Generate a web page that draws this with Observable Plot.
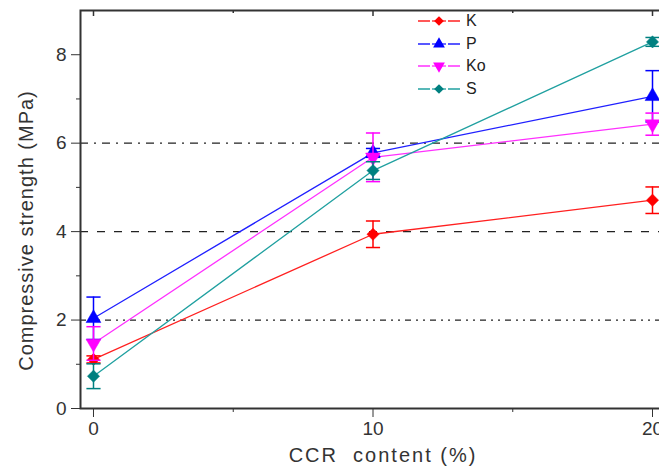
<!DOCTYPE html>
<html><head><meta charset="utf-8">
<script src="https://cdn.jsdelivr.net/npm/d3@7"></script>
<script src="https://cdn.jsdelivr.net/npm/@observablehq/plot@0.6"></script>
<style>
html,body{margin:0;padding:0;background:#fff;overflow:hidden;}
#wrap{position:relative;width:659px;height:468px;overflow:hidden;font-family:Arial,"Liberation Sans",sans-serif;}
#chart svg{max-width:none !important;}
#chart svg text{font-size:19px;}
#chart svg text.title{font-size:20px;}
#legend{position:absolute;left:418px;top:10px;font-size:16px;color:#222;}
#legend .row{display:flex;align-items:center;height:22.5px;}
#legend svg{margin-right:6px;}
</style></head>
<body><div id="wrap"><div id="chart"></div><div id="legend"></div></div>
<script>
const contents = [0, 10, 20];
const seriesNames = ["K", "P", "Ko", "S"];
const colors = ["#ff0000", "#0000ff", "#ff00ff", "#008080"];
const lineColors = ["#ff2020", "#2020ff", "#ff30ff", "#20a0a0"];
const symbols = ["diamond2", "triangle", "triangle", "diamond2"];
const rotations = [0, 0, 180, 0];
const K = [1.11, 3.94, 4.71];
const P = [2.04, 5.78, 7.06];
const Ko = [1.47, 5.68, 6.43];
const S = [0.73, 5.38, 8.29];
const K_err = [0.08, 0.3, 0.3];
const P_err = [0.48, 0.1, 0.58];
const Ko_err = [0.38, 0.55, 0.25];
const S_err = [0.28, 0.2, 0.1];
const yMajor = [0, 2, 4, 6, 8];
const yMinor = [1, 3, 5, 7];
const xMajor = [0, 10, 20];
const xMinor = [5, 15];
const refLines = [2, 4, 6];

const values = [K, P, Ko, S];
const errs = [K_err, P_err, Ko_err, S_err];
const data = [];
seriesNames.forEach((s, i) => contents.forEach((c, j) => data.push({
  series: s, idx: i, x: c, y: values[i][j], e: errs[i][j]
})));

const cap = {draw(ctx, size) { const r = Math.sqrt(size) ; ctx.moveTo(-r, 0); ctx.lineTo(r, 0); }};

const W = 680, H = 468, mT = 10, mB = 60, mL = 80, mR = 15;
const plotH = H - mT - mB;

const marks = [
  Plot.ruleY([refLines[0]], {stroke: "#222", strokeWidth: 1.2, strokeDasharray: "6,5,2,5,2,5"}),
  Plot.ruleY([refLines[1]], {stroke: "#222", strokeWidth: 1.2, strokeDasharray: "8,9"}),
  Plot.ruleY([refLines[2]], {stroke: "#222", strokeWidth: 1.2, strokeDasharray: "8,6,2,6"}),
];
seriesNames.forEach((s, i) => {
  const d = data.filter(r => r.idx === i);
  marks.push(Plot.line(d, {x: "x", y: "y", stroke: lineColors[i], strokeWidth: 1.3}));
});
seriesNames.forEach((s, i) => {
  const d = data.filter(r => r.idx === i);
  marks.push(Plot.ruleX(d, {x: "x", y1: r => r.y - r.e, y2: r => r.y + r.e, stroke: colors[i], strokeWidth: 1.5}));
  marks.push(Plot.dot(d, {x: "x", y: r => r.y + r.e, symbol: cap, r: 4, stroke: colors[i], strokeWidth: 1.5}));
  marks.push(Plot.dot(d, {x: "x", y: r => r.y - r.e, symbol: cap, r: 4, stroke: colors[i], strokeWidth: 1.5}));
  marks.push(Plot.dot(d, {x: "x", y: "y", symbol: symbols[i], rotate: rotations[i], r: 5.5, fill: colors[i], stroke: colors[i], strokeWidth: 0.5}));
});
marks.push(
  Plot.axisY(yMajor, {tickSize: 9, tickPadding: 5, color: "#333", label: null}),
  Plot.axisY(yMinor, {tickSize: 4, tickFormat: () => "", color: "#333", label: null}),
  Plot.axisX(xMajor, {tickSize: 9, tickPadding: 4, color: "#333", label: null}),
  Plot.axisX(xMinor, {tickSize: 4, tickFormat: () => "", color: "#333", label: null}),
  Plot.tickX(xMajor, {x: d => d, insetBottom: plotH - 6, stroke: "#333", strokeWidth: 1.5}),
  Plot.tickX(xMinor, {x: d => d, insetBottom: plotH - 3, stroke: "#333", strokeWidth: 1.5}),
  Plot.frame({stroke: "#333", strokeWidth: 2}),
  Plot.text(["Compressive strength (MPa)"], {frameAnchor: "left", textAnchor: "middle", lineAnchor: "middle", dx: -54, dy: 21, rotate: -90, fill: "#333", text: d => d, className: "ylab"}),
  Plot.text(["CCR  content (%)"], {frameAnchor: "bottom", textAnchor: "middle", lineAnchor: "middle", dx: 10, dy: 47, fill: "#333", text: d => d, className: "xlab"})
);

const chart = Plot.plot({
  width: W, height: H,
  marginTop: mT, marginBottom: mB, marginLeft: mL, marginRight: mR,
  style: {fontFamily: "Arial, 'Liberation Sans', sans-serif", fontSize: "19px", background: "#fff", maxWidth: "none"},
  x: {domain: [-0.465, 20.465]},
  y: {domain: [0, 9]},
  marks
});
chart.querySelectorAll(".ylab text").forEach(t => { t.style.fontSize = "20px"; t.style.letterSpacing = "1px"; });
chart.querySelectorAll(".xlab text").forEach(t => { t.style.fontSize = "20px"; t.style.letterSpacing = "2px"; });
document.getElementById("chart").appendChild(chart);

// legend
const leg = document.getElementById("legend");
seriesNames.forEach((s, i) => {
  const row = document.createElement("div");
  row.className = "row";
  const sym = d3.symbol(symbols[i] === "triangle" ? d3.symbolTriangle : d3.symbolDiamond2, 60)();
  row.innerHTML = `<svg width="42" height="14"><line x1="0" x2="42" y1="7" y2="7" stroke="${lineColors[i]}" stroke-width="1.3"/>` +
    `<rect x="12" y="0" width="18" height="14" fill="#fff"/>` +
    `<line x1="14" x2="28" y1="7" y2="7" stroke="${lineColors[i]}" stroke-width="1.3"/>` +
    `<path d="${sym}" transform="translate(21,7) rotate(${rotations[i]})" fill="${colors[i]}"/></svg><span>${s}</span>`;
  leg.appendChild(row);
});
</script></body></html>
